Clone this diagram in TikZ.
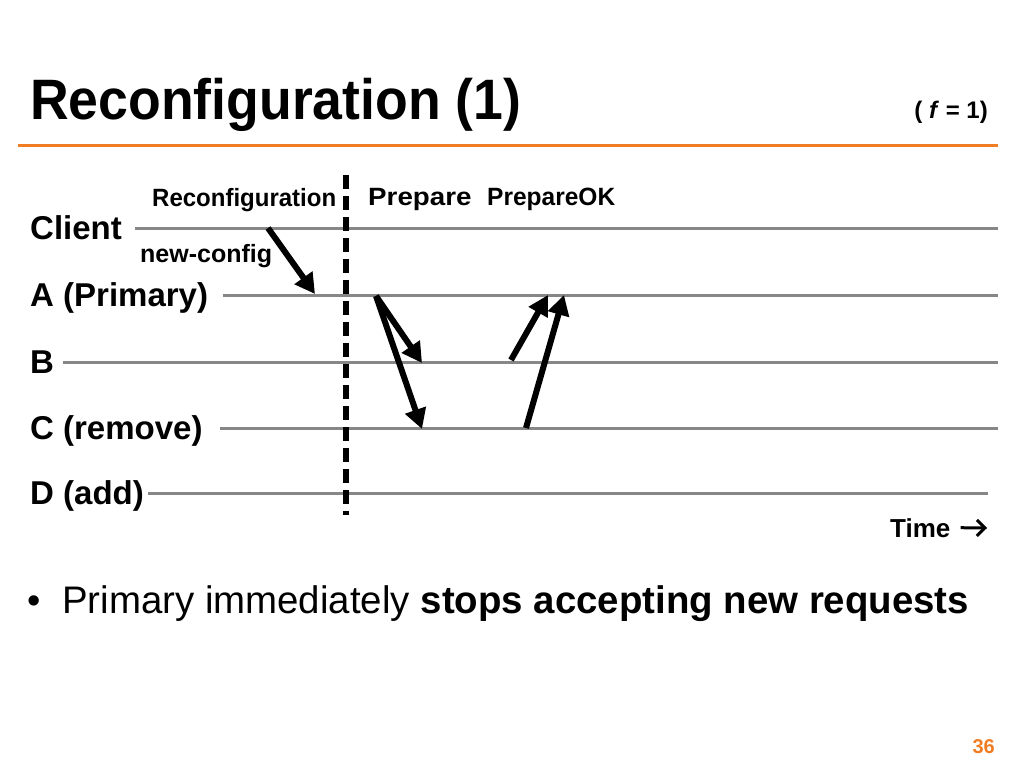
\documentclass[tikz,border=0pt]{standalone}
\usepackage{fontspec}
\setmainfont{Liberation Sans}
\usepackage{graphicx}
\usetikzlibrary{arrows.meta, positioning}
\definecolor{slideorange}{RGB}{240,125,35}
\definecolor{lanegray}{RGB}{135,135,135}
\tikzstyle{lbl} = [anchor=west, 
			inner sep=0pt, 
			text height=23pt, 
			text depth=0pt, 
			font=\bfseries\fontsize{33}{36}\selectfont]
\tikzstyle{msg} = [anchor=base west, 
			inner sep=0pt, 
			font=\bfseries\fontsize{25}{28}\selectfont]
\tikzstyle{lane} = [draw=lanegray, line width=3pt]
\tikzstyle{msgline} = [draw, line width=6pt, -{Triangle[length=20pt, width=21pt]}]
\tikzstyle{cut} = [draw, line width=6pt, dash pattern=on 14pt off 7pt]

\begin{document}
\begin{tikzpicture}[x=1pt, y=-1pt]
	\useasboundingbox (0,0) rectangle (1024,768);
	% heading
	\node [anchor=base west, inner sep=0pt, font=\bfseries\fontsize{57}{64}\selectfont] (title) at (30,119) {\scalebox{0.94}[1]{Reconfiguration (1)}};
	\node [anchor=base east, inner sep=0pt, font=\bfseries\fontsize{24}{28}\selectfont] (fault) at (988,118) {( \textit{f} = 1)};
	\draw [slideorange, line width=3pt] (18,145) -- (998,145);
	% replicas and their time lines
	\node [lbl] (client) at (30,228) {Client};
	\node [lbl] (primary) at (30,295) {A (Primary)};
	\node [lbl] (nodeB) at (30,362) {B};
	\node [lbl] (nodeC) at (30,428) {C (remove)};
	\node [lbl] (nodeD) at (30,493) {D (add)};
	\coordinate (clientEnd) at (998,228);
	\coordinate (primaryEnd) at (998,295);
	\coordinate (nodeBEnd) at (998,362);
	\coordinate (nodeCEnd) at (998,428);
	\coordinate (nodeDEnd) at (988,493);
	\path [lane] ([xshift=13pt]client.east) -- (clientEnd);
	\path [lane] ([xshift=15pt]primary.east) -- (primaryEnd);
	\path [lane] ([xshift=9pt]nodeB.east) -- (nodeBEnd);
	\path [lane] ([xshift=17pt]nodeC.east) -- (nodeCEnd);
	\path [lane] ([xshift=4pt]nodeD.east) -- (nodeDEnd);
	% epoch boundary
	\coordinate (cutTop) at (346,175);
	\coordinate (cutBot) at (346,515);
	\path [cut] (cutTop) -- (cutBot);
	% messages
	\node [msg] (reconf) at (152,206) {\scalebox{0.96}[1]{Reconfiguration}};
	\node [msg] (prep) at (368,205) {\scalebox{1.11}[1]{Prepare}};
	\node [msg] (prepOk) at (487,205) {\scalebox{0.98}[1]{PrepareOK}};
	\node [msg] (newCfg) at (140,262) {new-config};
	\coordinate (reqFrom) at (268,228);
	\coordinate (reqTo) at (315,294);
	\path [msgline] (reqFrom) -- (reqTo);
	\coordinate (prepFrom) at (376,296);
	\coordinate (prepB) at (422,363);
	\coordinate (prepC) at (422,429);
	\path [msgline] (prepFrom) -- (prepB);
	\path [msgline] (prepFrom) -- (prepC);
	\coordinate (okFromB) at (511,360);
	\coordinate (okToB) at (548,295);
	\coordinate (okFromC) at (526,428);
	\coordinate (okToC) at (564,295);
	\path [msgline] (okFromB) -- (okToB);
	\path [msgline] (okFromC) -- (okToC);
	% time axis hint
	\node [anchor=base west, inner sep=0pt, font=\bfseries\fontsize{26}{30}\selectfont] (time) at (890,537) {Time};
	\coordinate (timeTip) at (987,528);
	\draw [line width=3pt, -{Straight Barb[length=8pt, width=16pt]}] ([xshift=10pt]time.east) -- (timeTip);
	% bullet
	\node [anchor=base west, inner sep=0pt, font=\fontsize{38}{44}\selectfont] (dot) at (27,613) {•};
	\node [anchor=base west, inner sep=0pt, font=\fontsize{38.4}{44}\selectfont] (point) at (62,613) {Primary immediately \textbf{stops accepting new requests}};
	\node [anchor=base east, inner sep=0pt, text=slideorange, font=\bfseries\fontsize{20}{24}\selectfont] (page) at (995,753) {36};
\end{tikzpicture}
\end{document}
